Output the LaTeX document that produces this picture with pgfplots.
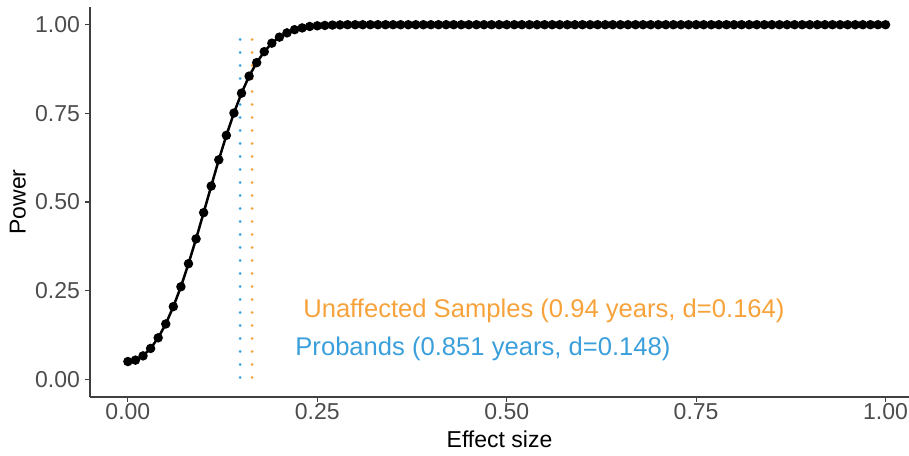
\documentclass[border=0pt]{standalone}
\usepackage{fontspec}
\setmainfont{Liberation Sans}
\usepackage{pgfplots}
\pgfplotsset{compat=1.18}
\definecolor{unaff}{HTML}{F7A23A}
\definecolor{proband}{HTML}{3A9FDB}
\begin{document}
\fontsize{11.5}{13.8}\selectfont
\begin{tikzpicture}
\path[use as bounding box] (-45pt,-29pt) rectangle (409.5pt,198.5pt);
\begin{axis}[
  scale only axis, width=409.5pt, height=195pt,
  xmin=-0.05, xmax=1.031, ymin=-0.05, ymax=1.05,
  axis x line*=bottom, axis y line*=left,
  axis line style={-, line width=0.6pt, color=black!75},
  tick align=outside, major tick length=2.5pt,
  tick style={line width=0.6pt, color=black!75},
  xtick={0,0.25,0.5,0.75,1}, ytick={0,0.25,0.5,0.75,1},
  minor tick num=0,
  xticklabel style={/pgf/number format/.cd, fixed, fixed zerofill, precision=2},
  yticklabel style={/pgf/number format/.cd, fixed, fixed zerofill, precision=2},
  xticklabel shift=-3.5pt, yticklabel shift=-1.5pt,
  /pgf/number format/assume math mode=true,
  tick label style={font=\fontsize{11.5}{13.8}\selectfont, color=black!70},
  label style={font=\fontsize{11.5}{13.8}\selectfont, color=black},
  xlabel={Effect size}, ylabel={Power},
  xlabel style={at={(axis description cs:0.5,-0.108)}, anchor=center},
  ylabel style={at={(axis description cs:-0.088,0.5)}, anchor=center, rotate=0},
  clip=false,
]
\addplot[black, line width=1.25pt, mark=*, mark size=1.7pt] coordinates {
(0.00,0.050)(0.01,0.054)(0.02,0.066)(0.03,0.087)(0.04,0.117)(0.05,0.156)
(0.06,0.205)(0.07,0.261)(0.08,0.326)(0.09,0.396)(0.10,0.470)(0.11,0.545)
(0.12,0.619)(0.13,0.688)(0.14,0.751)(0.15,0.807)(0.16,0.855)(0.17,0.893)
(0.18,0.924)(0.19,0.948)(0.20,0.965)(0.21,0.977)(0.22,0.986)(0.23,0.991)
(0.24,0.995)(0.25,0.997)(0.26,0.998)(0.27,0.999)(0.28,0.9995)(0.29,1)
(0.30,1)(0.31,1)(0.32,1)(0.33,1)(0.34,1)(0.35,1)(0.36,1)(0.37,1)(0.38,1)(0.39,1)
(0.40,1)(0.41,1)(0.42,1)(0.43,1)(0.44,1)(0.45,1)(0.46,1)(0.47,1)(0.48,1)(0.49,1)
(0.50,1)(0.51,1)(0.52,1)(0.53,1)(0.54,1)(0.55,1)(0.56,1)(0.57,1)(0.58,1)(0.59,1)
(0.60,1)(0.61,1)(0.62,1)(0.63,1)(0.64,1)(0.65,1)(0.66,1)(0.67,1)(0.68,1)(0.69,1)
(0.70,1)(0.71,1)(0.72,1)(0.73,1)(0.74,1)(0.75,1)(0.76,1)(0.77,1)(0.78,1)(0.79,1)
(0.80,1)(0.81,1)(0.82,1)(0.83,1)(0.84,1)(0.85,1)(0.86,1)(0.87,1)(0.88,1)(0.89,1)
(0.90,1)(0.91,1)(0.92,1)(0.93,1)(0.94,1)(0.95,1)(0.96,1)(0.97,1)(0.98,1)(0.99,1)
(1.00,1)};
\addplot[proband, line width=1.5pt, line cap=round, dash pattern=on 0pt off 6.5pt] coordinates {(0.148,0.005)(0.148,0.98)};
\addplot[unaff, line width=1.5pt, line cap=round, dash pattern=on 0pt off 6.5pt] coordinates {(0.164,0.005)(0.164,0.98)};
\node[anchor=west, text=unaff, inner sep=0pt, font=\fontsize{12.8}{15}\selectfont] at (axis cs:0.231,0.192) {Unaffected Samples (0.94 years, d=0.164)};
\node[anchor=west, text=proband, inner sep=0pt, font=\fontsize{12.8}{15}\selectfont] at (axis cs:0.2206,0.085) {Probands (0.851 years, d=0.148)};
\end{axis}
\end{tikzpicture}
\end{document}
